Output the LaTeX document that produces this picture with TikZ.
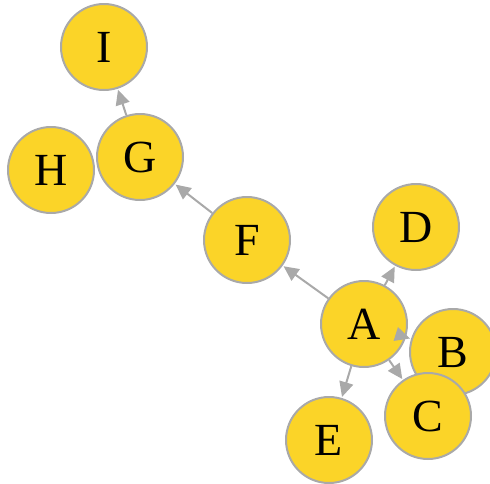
\documentclass[tikz,border=0pt]{standalone}
\usepackage{fontspec}
\setmainfont{Liberation Serif}
\usetikzlibrary{arrows.meta}
\definecolor{vertexfill}{HTML}{FBD428}
\definecolor{edgegray}{HTML}{A9A9A9}
\tikzset{Graph/.style = {
   vertex/.style = {circle, draw=edgegray, line width=2pt, fill=vertexfill,
                    minimum size=86pt, inner sep=0pt, font=\fontsize{46}{50}\selectfont},
     edge/.style = {draw=edgegray, line width=2pt, -{Triangle[length=15pt,width=14pt]},
                    shorten >=1pt}}
        }

\begin{document}
\begin{tikzpicture}[Graph, x=1pt, y=-1pt]
\useasboundingbox (0,0) rectangle (490,483);

% nodes
\node (I) [vertex] at (104,47)  {I};
\node (H) [vertex] at (51,170)  {H};
\node (G) [vertex] at (140,157) {G};
\node (F) [vertex] at (247,240) {F};
\node (D) [vertex] at (416,227) {D};
\node (B) [vertex] at (453,352) {B};
\node (C) [vertex] at (428,416) {C};
\node (E) [vertex] at (329,440) {E};
\node (A) [vertex] at (364,324) {A};
% edges
\path [edge] (G) -- (I);
\path [edge] (F) -- (G);
\path [edge] (A) -- (F);
\path [edge] (A) -- (D);
\path [edge] (A) -- (E);
\path [edge] (A) -- (C);
\path [edge] (A) -- (B);

\end{tikzpicture}
\end{document}
